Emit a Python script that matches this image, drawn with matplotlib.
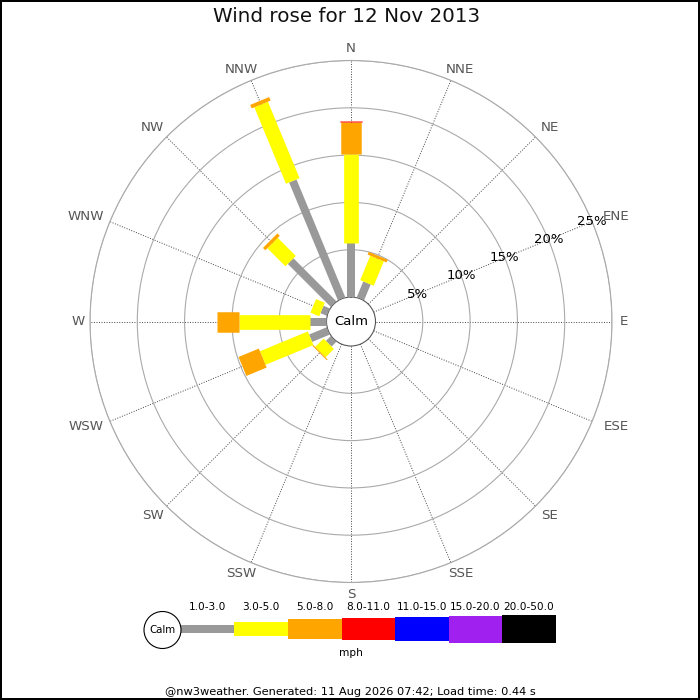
import matplotlib
matplotlib.use('Agg')
import matplotlib.pyplot as plt
import numpy as np
from matplotlib.patches import Rectangle, Circle

# ---------------- data ----------------
directions = ['N', 'NNE', 'NE', 'ENE', 'E', 'ESE', 'SE', 'SSE',
              'S', 'SSW', 'SW', 'WSW', 'W', 'WNW', 'NW', 'NNW']
speed_bins = ['1.0-3.0', '3.0-5.0', '5.0-8.0', '8.0-11.0',
              '11.0-15.0', '15.0-20.0', '20.0-50.0']
bin_colors = ['#999999', '#ffff00', '#ffa500', '#ff0000',
              '#0000ff', '#a020f0', '#000000']
#            N     NNE  NE ENE E ESE SE SSE S SSW  SW    WSW   W     WNW   NW    NNW
pct_1_3   = [5.74, 1.82, 0, 0, 0, 0, 0, 0, 0, 0, 0.74, 2.03, 1.74, 0.73, 6.44, 13.49]
pct_3_5   = [9.34, 2.80, 0, 0, 0, 0, 0, 0, 0, 0, 1.25, 5.48, 7.48, 1.00, 2.70, 8.75]
pct_5_8   = [3.45, 0.30, 0, 0, 0, 0, 0, 0, 0, 0, 0.12, 2.32, 2.39, 0.00, 0.35, 0.40]
pct_8_11  = [0.11, 0.00, 0, 0, 0, 0, 0, 0, 0, 0, 0.00, 0.00, 0.00, 0.00, 0.00, 0.00]
pct_11_15 = [0] * 16
pct_15_20 = [0] * 16
pct_20_50 = [0] * 16
ring_ticks = [5, 10, 15, 20, 25]
ring_labels = ['5%', '10%', '15%', '20%', '25%']
title = 'Wind rose for 12 Nov 2013'
units = 'mph'
calm_label = 'Calm'
footer = '@nw3weather. Generated: 11 Aug 2026 07:42; Load time: 0.44 s'

series = [pct_1_3, pct_3_5, pct_5_8, pct_8_11, pct_11_15, pct_15_20, pct_20_50]

# ---------------- styling ----------------
W = H = 700
PT = 72.0 / 100.0           # points per pixel at dpi 100
cx, cy = 351.0, 321.5       # rose centre (px)
R_out = 261.0               # radius of 25 % ring (px)
R_calm = 24.5               # calm circle radius (px)
r_max = 25.0
calm_r = R_calm / (R_out - R_calm) * r_max
bar_px = [8, 14.7, 20.5, 22.5, 24.5, 27, 28.6]
# outward label offsets (px, |x|, |y|) from the ring point, by angular
# distance from the N-S axis (0, 22.5, 45, 67.5, 90 deg)
label_off = [(0, 11.5), (9.5, 10.4), (13.9, 9.9), (24.2, 5.2), (12.0, 0)]

fig = plt.figure(figsize=(W / 100, H / 100), dpi=100)
fig.patch.set_facecolor('white')

ax = fig.add_axes([(cx - R_out) / W, (H - cy - R_out) / H,
                   2 * R_out / W, 2 * R_out / H], projection='polar')
ax.set_theta_zero_location('N')
ax.set_theta_direction(-1)
ax.set_ylim(0, r_max)
ax.set_rorigin(-calm_r)
ax.set_yticks(ring_ticks)
ax.set_yticklabels([])
ax.set_xticks(np.deg2rad(np.arange(len(directions)) * 360 / len(directions)))
ax.set_xticklabels([])
ax.yaxis.grid(True, color='#aaaaaa', lw=0.8, ls='-')
ax.xaxis.grid(True, color='#444444', lw=0.7, ls=(0, (1, 1.6)))
ax.spines['polar'].set_color('#aaaaaa')
ax.spines['polar'].set_linewidth(0.8)
ax.spines['inner'].set_color('#555555')
ax.spines['inner'].set_linewidth(0.8)
ax.tick_params(length=0)

# bars
for i, name in enumerate(directions):
    th = np.deg2rad(i * 360 / len(directions))
    cum = 0.0
    for k, vals in enumerate(series):
        v = vals[i]
        if v > 0:
            ax.plot([th, th], [cum, cum + v], color=bin_colors[k],
                    lw=bar_px[k] * PT, solid_capstyle='butt', zorder=3)
            cum += v

# ring labels along ENE
th_lab = np.deg2rad(67.5)
for r, lab in zip(ring_ticks, ring_labels):
    ax.text(th_lab, r, lab, ha='center', va='center', fontsize=9.5,
            color='black', zorder=5)

ax.text(0.5, 0.5, calm_label, transform=ax.transAxes, ha='center',
        va='center', fontsize=9.5, color='black', zorder=6)

# ---------------- overlay (title, labels, legend, footer) ----------------
lax = fig.add_axes([0, 0, 1, 1])
lax.set_xlim(0, W)
lax.set_ylim(H, 0)
lax.axis('off')

# direction labels
for i, name in enumerate(directions):
    deg = i * 360 / len(directions)
    a = deg % 180
    a = min(a, 180 - a)
    idx = int(round(a / 22.5))
    th = np.deg2rad(deg)
    s, c = np.sin(th), np.cos(th)
    ox, oy = label_off[idx]
    x = cx + R_out * s + np.sign(round(s, 6)) * ox
    y = cy - R_out * c - np.sign(round(c, 6)) * oy
    lax.text(x, y, name, ha='center', va='center', fontsize=9.6,
             color='#555555')

lax.text(347, 17, title, ha='center', va='center', fontsize=14.3, color='#111111')

leg_x0, leg_w, leg_y = 180.7, 53.6, 629.0
for k, (lab, col) in enumerate(zip(speed_bins, bin_colors)):
    x0 = leg_x0 + k * leg_w
    h = bar_px[k]
    lax.add_patch(Rectangle((x0, leg_y - h / 2), leg_w, h, facecolor=col,
                            edgecolor='none'))
    lax.text(x0 + leg_w / 2, 607, lab, ha='center', va='center',
             fontsize=7.6, color='black')
lax.add_patch(Circle((162.5, 630), 18.5, facecolor='white', edgecolor='black',
                     lw=0.8))
lax.text(162.5, 630, calm_label, ha='center', va='center', fontsize=7.4)
lax.text(350.7, 653, units, ha='center', va='center', fontsize=7.6)
lax.text(350, 692, footer, ha='center', va='center', fontsize=8.2)

lax.add_patch(Rectangle((1, 1), W - 2, H - 2, fill=False, edgecolor='black',
                        lw=2 * PT, clip_on=False))

fig.savefig('out.png', dpi=100)
